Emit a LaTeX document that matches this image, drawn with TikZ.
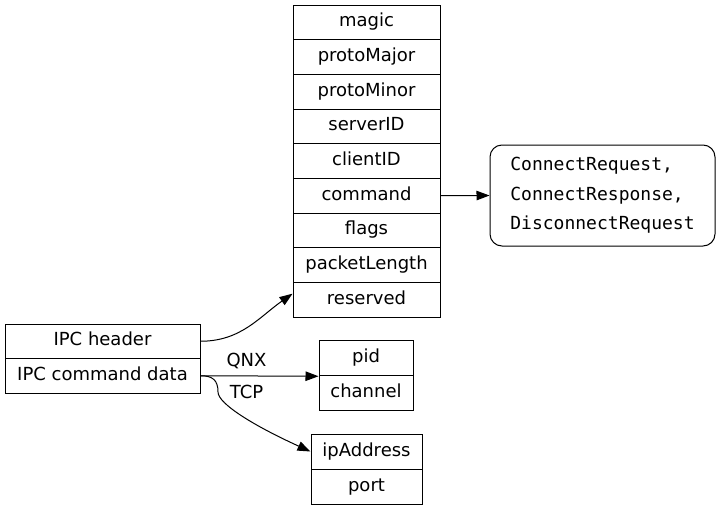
\documentclass[tikz,border=0pt]{standalone}
\usepackage{fontspec}
\setmainfont{DejaVu Sans}
\setmonofont{DejaVu Sans Mono}
\usetikzlibrary{arrows.meta}

\begin{document}
\begin{tikzpicture}[
  x=1pt, y=-1pt,
  font=\fontsize{18}{22}\selectfont, >={Triangle[length=13pt,width=9.5pt]},
  fld/.style={draw,line width=1pt,inner sep=0pt,minimum height=34.67pt,text height=13pt,text depth=4pt},
  rnd/.style={draw,line width=1pt,rounded corners=12pt,align=left,inner sep=0pt},
  lnk/.style={->,line width=1pt},
]
\useasboundingbox (0,0) rectangle (720,509);
% header fields
\foreach \n/\lab in {1/magic,2/protoMajor,3/protoMinor,4/serverID,5/clientID,6/command,7/flags,8/packetLength,9/reserved}{
  \node[fld,minimum width=147pt] (h\n) at (366.5,{5+34.67*(\n-0.5)}) {\lab};
}
\node[rnd,minimum width=225pt,minimum height=101pt,font=\ttfamily\fontsize{18}{29.5}\selectfont] (cmds) at (602.5,195.5)
  {\raisebox{-3pt}{ConnectRequest,}\\\raisebox{-3pt}{ConnectResponse,}\\\raisebox{-3pt}{DisconnectRequest}};
% IPC message
\node[fld,minimum width=195pt,minimum height=34.5pt] (ipch) at (102.5,341.25) {IPC header};
\node[fld,minimum width=195pt,minimum height=34.5pt] (ipcd) at (102.5,375.75) {IPC command data};
% transport data
\node[fld,minimum width=94pt,minimum height=35pt] (pid)  at (366,358.25) {pid};
\node[fld,minimum width=94pt,minimum height=35pt] (chan) at (366,393.25) {channel};
\node[fld,minimum width=111pt,minimum height=35pt] (ipa)  at (366.5,451.5) {ipAddress};
\node[fld,minimum width=111pt,minimum height=35pt] (port) at (366.5,486.5) {port};
% links
\draw[lnk] (h6.east) -- (cmds.west);
\draw[lnk] (ipch.east) to[out=0,in=215] ([yshift=6pt]h9.west);
\draw[lnk] (ipcd.east) -- node[above=3pt,pos=0.39]{QNX} (pid.south west);
\draw[lnk] (ipcd.east) .. controls +(12,0) and +(0,-12) .. (218,392) node[right=8pt]{TCP}
  .. controls +(0,12) and +(-55,-25) .. (ipa.west);
\end{tikzpicture}
\end{document}
